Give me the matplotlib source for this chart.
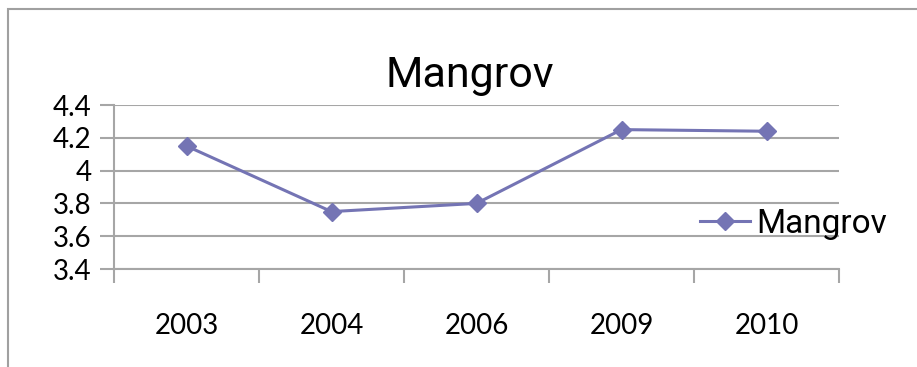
import matplotlib
matplotlib.use("Agg")
import matplotlib.pyplot as plt
from matplotlib.patches import Rectangle

categories = ["2003", "2004", "2006", "2009", "2010"]
values = [4.15, 3.75, 3.80, 4.25, 4.24]
yticks = [3.4, 3.6, 3.8, 4.0, 4.2, 4.4]
ytick_labels = ["3.4", "3.6", "3.8", "4", "4.2", "4.4"]
series_name = "Mangrov"
title = "Mangrov"

line_color = "#7474B4"
grid_color = "#A6A6A6"

fig = plt.figure(figsize=(9.17, 3.67), dpi=100)
fig.patch.set_facecolor("white")
fig.patches.append(Rectangle((8/917, -0.1), 1.2, (367-9)/367 + 0.1, transform=fig.transFigure,
                             fill=False, edgecolor="#A0A0A0", linewidth=1.5))

ax = fig.add_axes([114/917, 1-269/367, (839-114)/917, (269-105)/367])
x = list(range(len(categories)))
ax.plot(x, values, color=line_color, linewidth=2.2, marker="D", markersize=9,
        markerfacecolor=line_color, markeredgecolor=line_color, label=series_name, zorder=3)
ax.set_xlim(-0.5, len(categories)-0.5)
ax.set_ylim(3.4, 4.4)
ax.set_yticks(yticks)
ax.set_yticklabels(ytick_labels)
ax.set_xticks([i - 0.5 for i in range(len(categories)+1)], minor=False)
ax.set_xticklabels([""]*(len(categories)+1))
ax.set_xticks(x, minor=True)
ax.set_xticklabels(categories, minor=True)
ax.tick_params(axis="x", which="minor", length=0, pad=32, labelsize=20)
ax.tick_params(axis="x", which="major", length=10, width=1.5, color=grid_color)
ax.tick_params(axis="y", length=10, width=1.5, color=grid_color, labelsize=20, pad=6)
for lab in ax.get_xticklabels(minor=True) + ax.get_yticklabels():
    lab.set_family(["Lato", "DejaVu Sans"])
ax.grid(axis="y", color=grid_color, linewidth=1.5)
ax.set_axisbelow(True)
for s in ["top", "right"]:
    ax.spines[s].set_visible(False)
for s in ["left", "bottom"]:
    ax.spines[s].set_color(grid_color)
    ax.spines[s].set_linewidth(1.5)

fig.text(470/917, 1-75/367, title, ha="center", va="center", fontsize=31,
         family=["Roboto", "DejaVu Sans"], fontstretch="condensed")
leg = fig.legend(loc="center left", bbox_to_anchor=(700/917, 1-224/367), frameon=False,
                 prop={"family": ["Roboto", "DejaVu Sans"], "size": 24, "stretch": "condensed"},
                 handlelength=1.5, handletextpad=0.2, borderpad=0, borderaxespad=0)

fig.savefig("out.png", dpi=100)
